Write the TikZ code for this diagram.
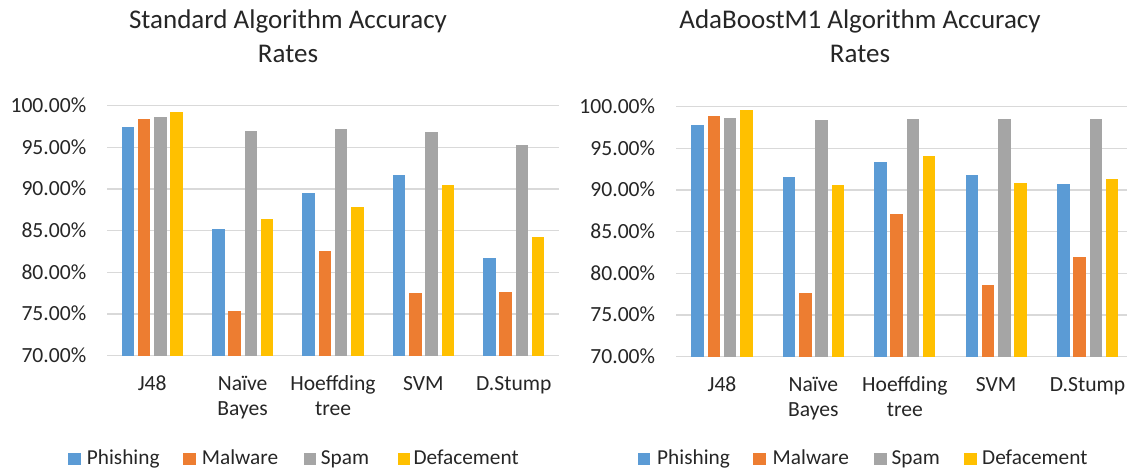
\documentclass[tikz,border=0pt]{standalone}
\usepackage{fontspec}
\setmainfont{Carlito}
\usetikzlibrary{positioning}
\definecolor{Phish}{HTML}{5B9BD5}
\definecolor{Malw}{HTML}{ED7D31}
\definecolor{SpamC}{HTML}{A5A5A5}
\definecolor{Deface}{HTML}{FFC000}
\definecolor{GridC}{HTML}{D9D9D9}
\definecolor{Ink}{HTML}{262626}
\tikzset{
  gridline/.style={GridC, line width=1.3pt},
  ticklabel/.style={anchor=base east, inner sep=0pt, text=Ink, font=\fontsize{21.6}{26}\selectfont},
  catlabel/.style={anchor=base, align=center, inner sep=0pt, text=Ink, font=\fontsize{21.6}{25}\selectfont},
  charttitle/.style={anchor=base, align=center, inner sep=0pt, text=Ink, font=\fontsize{27}{33.5}\selectfont},
  legbox/.style={minimum size=12.4pt, inner sep=0pt},
  legtext/.style={anchor=base west, inner sep=0pt, text=Ink, font=\fontsize{21.3}{25}\selectfont}
}

\begin{document}
\begin{tikzpicture}[x=1pt, y=-1pt]
\useasboundingbox (0,0) rectangle (1127,472);
%
% standard algorithms
\begin{scope}[shift={(107,355.7)}]
\def\gw{90.4}
\node[charttitle] (titleL) at (181,-293.7) {Standard Algorithm Accuracy\\Rates};
\foreach \t in {70,75,...,100}{
  \draw[gridline] (0,{-(\t-70)*8.3333}) -- (5*\gw,{-(\t-70)*8.3333});
  \node[ticklabel] (tickL\t) at (-20.6,{-(\t-70)*8.3333+6.8}) {\t.00\%};
}
\foreach \cat/\ly/\a/\b/\c/\d [count=\i] in {
  J48/34.3/97.4/98.4/98.7/99.24,
  {Naïve\\Bayes}/59.3/85.24/75.4/97.0/86.36,
  {Hoeffding\\tree}/59.3/89.56/82.56/97.16/87.88,
  SVM/34.3/91.64/77.52/96.88/90.52,
  D.Stump/34.3/81.68/77.64/95.32/84.24}{
  \pgfmathsetmacro\cx{(\i-0.5)*\gw}
  \foreach \v/\col [count=\k] in {\a/Phish,\b/Malw,\c/SpamC,\d/Deface}
    \fill[\col] ({\cx-40.6+16.25*\k-6.25},0) rectangle ++(12.5,{-(\v-70)*8.3333});
  \node[catlabel] (catL\i) at (\cx,\ly) {\cat};
}
\end{scope}
%
% legend left
\node[legbox, fill=Phish] (boxL1) at (74.5,459) {};
\node[legtext] (legL1) at (86.7,464.5) {Phishing};
\node[legbox, fill=Malw] (boxL2) at (189.5,459) {};
\node[legtext] (legL2) at (201.7,464.5) {Malware};
\node[legbox, fill=SpamC] (boxL3) at (310.2,459) {};
\node[legtext] (legL3) at (320.7,464.5) {Spam};
\node[legbox, fill=Deface] (boxL4) at (404.2,459) {};
\node[legtext] (legL4) at (413.3,464.5) {Defacement};
%
% AdaBoostM1
\begin{scope}[shift={(676.3,356.7)}]
\def\gw{91.4}
\node[charttitle] (titleR) at (183.7,-294.7) {AdaBoostM1 Algorithm Accuracy\\Rates};
\foreach \t in {70,75,...,100}{
  \draw[gridline] (0,{-(\t-70)*8.3333}) -- (450.7,{-(\t-70)*8.3333});
  \node[ticklabel] (tickR\t) at (-21,{-(\t-70)*8.3333+6.8}) {\t.00\%};
}
\foreach \cat/\ly/\a/\b/\c/\d [count=\i] in {
  J48/34.3/97.84/98.84/98.68/99.64,
  {Naïve\\Bayes}/59.3/91.56/77.6/98.4/90.56,
  {Hoeffding\\tree}/59.3/93.32/87.08/98.52/94.12,
  SVM/34.3/91.84/78.56/98.52/90.88,
  D.Stump/34.3/90.72/82.0/98.52/91.28}{
  \pgfmathsetmacro\cx{(\i-0.5)*\gw}
  \foreach \v/\col [count=\k] in {\a/Phish,\b/Malw,\c/SpamC,\d/Deface}
    \fill[\col] ({\cx-40.6+16.25*\k-6.25},0) rectangle ++(12.5,{-(\v-70)*8.3333});
  \node[catlabel] (catR\i) at (\cx,\ly) {\cat};
}
\end{scope}
%
% legend right
\node[legbox, fill=Phish] (boxR1) at (643.8,459) {};
\node[legtext] (legR1) at (657,464.5) {Phishing};
\node[legbox, fill=Malw] (boxR2) at (759.5,459) {};
\node[legtext] (legR2) at (772.5,464.5) {Malware};
\node[legbox, fill=SpamC] (boxR3) at (880.5,459) {};
\node[legtext] (legR3) at (891.5,464.5) {Spam};
\node[legbox, fill=Deface] (boxR4) at (970.5,459) {};
\node[legtext] (legR4) at (982,464.5) {Defacement};
\end{tikzpicture}
\end{document}
